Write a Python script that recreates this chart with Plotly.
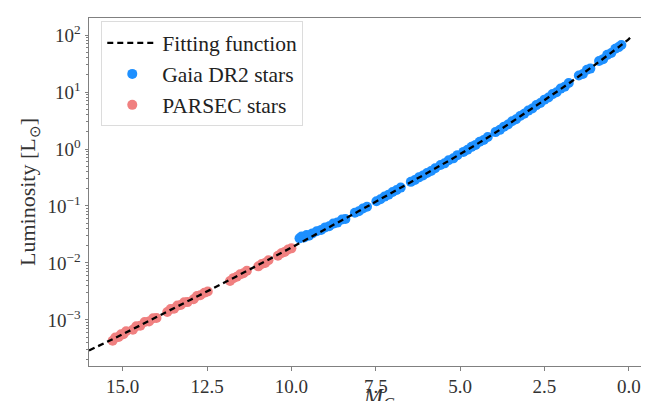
import plotly.graph_objects as go

# Fitting function: absolute G magnitude vs luminosity
fit_M = [16.0, 15.0, 14.0, 13.0, 12.0, 11.0, 10.0, 9.0, 8.0, 7.0, 6.0, 5.0, 4.0, 3.0, 2.0, 1.0, 0.0, -0.1]
fit_L = [2.9e-4, 5.6e-4, 1.12e-3, 2.24e-3, 4.47e-3, 9.1e-3, 1.86e-2, 3.89e-2, 8.13e-2, 0.174, 0.372,
         0.813, 1.86, 4.57, 11.5, 30.2, 85.1, 97.0]

# PARSEC stars
parsec_M = [15.30, 15.22, 15.12, 15.05, 14.98, 14.90,
            14.70, 14.60, 14.48, 14.35, 14.22, 14.10, 14.00,
            13.68, 13.58, 13.48, 13.38, 13.28, 13.18, 13.08,
            12.90, 12.80, 12.70, 12.58, 12.48,
            11.82, 11.72, 11.62, 11.52, 11.42, 11.32,
            10.98, 10.88, 10.78, 10.68,
            10.40, 10.30, 10.20, 10.10, 10.00]
parsec_L = [4.3e-4, 4.9e-4, 5.0e-4, 5.6e-4, 5.6e-4, 6.3e-4,
            6.7e-4, 7.7e-4, 7.9e-4, 9.2e-4, 9.4e-4, 1.07e-3, 1.08e-3,
            1.37e-3, 1.55e-3, 1.57e-3, 1.78e-3, 1.82e-3, 2.03e-3, 2.05e-3,
            2.30e-3, 2.62e-3, 2.70e-3, 3.00e-3, 3.15e-3,
            4.8e-3, 5.4e-3, 5.7e-3, 6.3e-3, 6.6e-3, 7.3e-3,
            8.7e-3, 9.6e-3, 1.00e-2, 1.11e-2,
            1.34e-2, 1.48e-2, 1.56e-2, 1.72e-2, 1.80e-2]

# Gaia DR2 stars
gaia_M = [9.76, 9.70, 9.62, 9.55, 9.48, 9.38, 9.25, 9.12, 9.00, 8.88, 8.76, 8.64, 8.50, 8.40,
          8.12, 8.00, 7.88, 7.76,
          7.48, 7.36, 7.24, 7.12, 7.00, 6.88, 6.76,
          6.46, 6.34, 6.22, 6.10, 5.98, 5.86, 5.74,
          5.58, 5.46, 5.34, 5.20, 5.08,
          4.90, 4.78, 4.66, 4.54, 4.42, 4.30, 4.18,
          3.95, 3.82, 3.70, 3.58, 3.46, 3.34, 3.22, 3.10, 2.98, 2.86, 2.74, 2.62, 2.50,
          2.38, 2.26, 2.14, 2.02, 1.90, 1.78,
          1.48, 1.36, 1.24, 1.14,
          0.88, 0.76, 0.64, 0.52, 0.40, 0.30, 0.22]
gaia_L = [0.027, 0.029, 0.028, 0.031, 0.030, 0.033, 0.036, 0.038, 0.042, 0.044, 0.049, 0.051, 0.058, 0.059,
          0.076, 0.081, 0.090, 0.097,
          0.121, 0.131, 0.146, 0.158, 0.176, 0.190, 0.210,
          0.265, 0.285, 0.318, 0.342, 0.380, 0.412, 0.460,
          0.525, 0.560, 0.635, 0.685, 0.780,
          0.890, 0.970, 1.09, 1.18, 1.34, 1.44, 1.62,
          1.98, 2.17, 2.47, 2.70, 3.06, 3.34, 3.80, 4.15, 4.72, 5.15, 5.90, 6.40, 7.35,
          8.00, 9.20, 9.90, 11.5, 12.4, 14.4,
          19.5, 20.8, 24.6, 25.8,
          35.0, 37.8, 45.0, 48.5, 57.5, 61.5, 67.0]

x_ticks = [15.0, 12.5, 10.0, 7.5, 5.0, 2.5, 0.0]
x_ticktext = ["15.0", "12.5", "10.0", "7.5", "5.0", "2.5", "0.0"]
y_ticks = [1e-3, 1e-2, 1e-1, 1, 10, 100]
y_ticktext = ["10<sup>−3</sup>", "10<sup>−2</sup>", "10<sup>−1</sup>",
              "10<sup>0</sup>", "10<sup>1</sup>", "10<sup>2</sup>"]

FONT = "Liberation Serif"
fig = go.Figure()
fig.add_trace(go.Scatter(x=gaia_M, y=gaia_L, mode="markers", name="Gaia DR2 stars", legendrank=2,
                         marker=dict(color="#1E90FF", size=10, line=dict(width=0))))
fig.add_trace(go.Scatter(x=parsec_M, y=parsec_L, mode="markers", name="PARSEC stars", legendrank=3,
                         marker=dict(color="#F08080", size=10, line=dict(width=0))))
fig.add_trace(go.Scatter(x=fit_M, y=fit_L, mode="lines", name="Fitting function", legendrank=1,
                         line=dict(color="black", width=2.3, dash="6px,4px"), line_shape="spline"))

fig.update_layout(
    width=649, height=401,
    margin=dict(l=81, r=10, t=10, b=43),
    paper_bgcolor="white", plot_bgcolor="white",
    font=dict(family=FONT, size=19, color="#333333"),
    showlegend=True,
    legend=dict(x=0.022, y=0.99, xanchor="left", yanchor="top",
                bgcolor="rgba(255,255,255,0.8)", bordercolor="#dcdcdc", borderwidth=1,
                font=dict(family=FONT, size=21.5, color="#222222"),
                itemwidth=50, tracegroupgap=4),
    annotations=[dict(text="<i>M</i><sub><i>G</i></sub>", xref="paper", yref="paper",
                      x=0.52, y=-0.045, xanchor="center", yanchor="top", showarrow=False,
                      font=dict(family=FONT, size=23, color="#333333"))],
)
fig.update_xaxes(range=[16.0, -0.54], tickvals=x_ticks, ticktext=x_ticktext,
                 showline=True, linecolor="#808080", linewidth=1, mirror=True,
                 ticks="outside", ticklen=3.5, tickcolor="#808080", showgrid=False, zeroline=False,
                 automargin=False)
fig.update_yaxes(type="log", range=[-3.81, 2.30], tickvals=y_ticks, ticktext=y_ticktext,
                 showline=True, linecolor="#808080", linewidth=1, mirror=True,
                 ticks="outside", ticklen=3.5, tickcolor="#808080", showgrid=False, zeroline=False,
                 minor=dict(ticks="outside", ticklen=2, tickcolor="#808080",
                            tickvals=[m * 10 ** e for e in range(-4, 3) for m in range(2, 10)]),
                 title=dict(text="Luminosity [L<sub>⊙</sub>]", font=dict(family=FONT, size=22, color="#333333"), standoff=5),
                 automargin=False)

fig.write_html("out.html")
